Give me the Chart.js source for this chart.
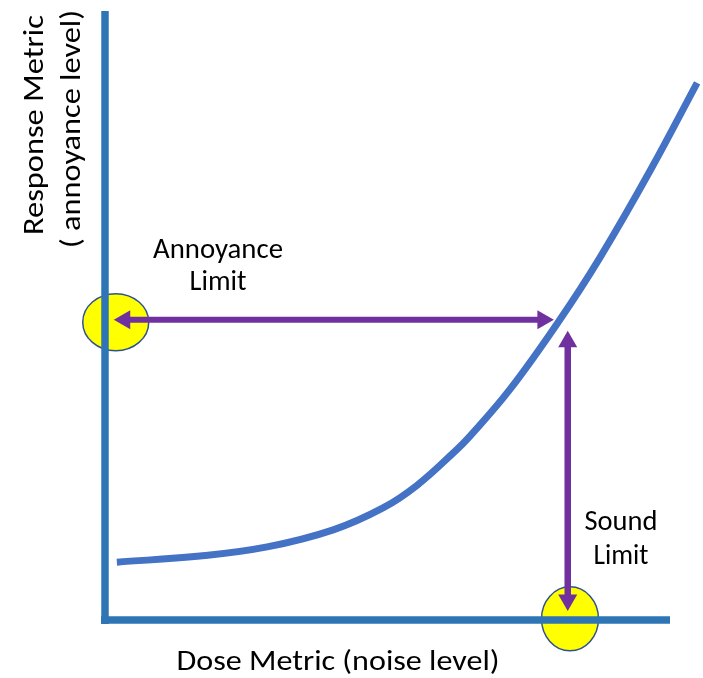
<!DOCTYPE html>
<html><head><meta charset="utf-8">
<script src="https://cdn.jsdelivr.net/npm/chart.js@4.4.1/dist/chart.umd.min.js"></script>
<style>html,body{margin:0;padding:0;background:#fff;}#wrap{width:703px;height:678px;}</style>
</head><body><div id="wrap"><canvas id="c" width="703" height="678"></canvas></div>
<script>
// Dose-response curve (dose metric on x, response metric on y, 0-100 units)
const doseValues     = [2.1, 16.8, 28.7, 40.4, 49.2, 55.2, 61.6, 64.6, 71.7, 80.5, 87.6, 96.5, 104.8];
const responseValues = [9.5, 10.5, 12.0, 14.8, 18.4, 22.1, 27.4, 30.2, 37.9, 49.3, 59.5, 73.8, 88.2];

// Limits
const annoyanceLimit = 49.3;   // response level
const soundLimit = 81.9;       // dose level

// Arrow endpoints (arrow head centres)
const annoyanceArrowX = [3.5, 77.5];
const soundArrowY = [45.7, 3.3];

// Axis extents
const xAxisExtent = [-0.7, 100];
const yAxisExtent = [-0.66, 100];

// Highlight ellipse centres
const ellipseCentres = [{x: 1.9, y: 48.9, rx: 33, ry: 28.5}, {x: 82.3, y: 0.2, rx: 28.5, ry: 32}];

// Text labels
const xTitle = 'Dose Metric (noise level)';
const yTitleLines = ['Response Metric', '( annoyance level)'];
const annoyanceLabel = ['Annoyance', 'Limit'];
const soundLabel = ['Sound', 'Limit'];

const curveData = doseValues.map((x, i) => ({x, y: responseValues[i]}));

const AXIS = '#2E75B6', CURVE = '#4472C4', PURPLE = '#7030A0';
const FONT = 'Carlito, Calibri, Lato, "Liberation Sans", sans-serif';

const ellipsePlugin = {
  id: 'ellipses',
  beforeDatasetsDraw(chart) {
    const {ctx, scales: {x, y}} = chart;
    ctx.save();
    ellipseCentres.forEach(e => {
      ctx.beginPath();
      ctx.ellipse(x.getPixelForValue(e.x), y.getPixelForValue(e.y), e.rx, e.ry, 0, 0, Math.PI * 2);
      ctx.fillStyle = '#FFFF00';
      ctx.fill();
      ctx.lineWidth = 1.5;
      ctx.strokeStyle = '#2F528F';
      ctx.stroke();
    });
    ctx.restore();
  }
};

function drawFit(ctx, text, cx, cy, width, rot) {
  ctx.save();
  ctx.translate(cx, cy);
  if (rot) ctx.rotate(rot);
  const w = ctx.measureText(text).width;
  ctx.scale(width / w, 1);
  ctx.fillText(text, 0, 0);
  ctx.restore();
}

const textPlugin = {
  id: 'texts',
  afterDraw(chart) {
    const ctx = chart.ctx;
    ctx.save();
    ctx.fillStyle = '#000';
    ctx.font = '28px ' + FONT;
    ctx.textAlign = 'center';
    ctx.textBaseline = 'alphabetic';
    drawFit(ctx, xTitle, 338, 670, 323);
    drawFit(ctx, annoyanceLabel[0], 218, 258, 130);
    drawFit(ctx, annoyanceLabel[1], 218, 290, 57);
    drawFit(ctx, soundLabel[0], 621, 530, 73);
    drawFit(ctx, soundLabel[1], 621, 564, 55);
    drawFit(ctx, yTitleLines[0], 43, 125, 220, -Math.PI / 2);
    drawFit(ctx, yTitleLines[1], 80, 129, 238, -Math.PI / 2);
    ctx.restore();
  }
};

new Chart(document.getElementById('c'), {
  type: 'scatter',
  data: {
    datasets: [
      { // horizontal arrow (annoyance limit)
        data: annoyanceArrowX.map(x => ({x, y: annoyanceLimit})),
        showLine: true, borderColor: PURPLE, borderWidth: 6, borderCapStyle: 'butt',
        pointStyle: 'triangle', pointRadius: 11, pointRotation: [270, 90],
        pointBackgroundColor: PURPLE, pointBorderWidth: 0, pointHoverRadius: 11,
        clip: false, order: 0
      },
      { // vertical arrow (sound limit)
        data: soundArrowY.map(y => ({x: soundLimit, y})),
        showLine: true, borderColor: PURPLE, borderWidth: 6.5, borderCapStyle: 'butt',
        pointStyle: 'triangle', pointRadius: 11, pointRotation: [0, 180],
        pointBackgroundColor: PURPLE, pointBorderWidth: 0, pointHoverRadius: 11,
        clip: false, order: 0
      },
      { // y axis
        data: yAxisExtent.map(y => ({x: 0, y})),
        showLine: true, borderColor: AXIS, borderWidth: 7.5, borderCapStyle: 'butt',
        pointRadius: 0, clip: false, order: 1
      },
      { // x axis
        data: xAxisExtent.map(x => ({x, y: 0})),
        showLine: true, borderColor: AXIS, borderWidth: 7.5, borderCapStyle: 'butt',
        pointRadius: 0, clip: false, order: 1
      },
      { // dose-response curve
        data: curveData,
        showLine: true, borderColor: CURVE, borderWidth: 7, borderCapStyle: 'butt',
        tension: 0.4, pointRadius: 0, clip: false, order: 2
      }
    ]
  },
  options: {
    responsive: false,
    devicePixelRatio: 1,
    animation: false,
    events: [],
    layout: {padding: {left: 105, right: 33, top: 10, bottom: 58}},
    plugins: {legend: {display: false}, tooltip: {enabled: false}},
    scales: {
      x: {type: 'linear', min: 0, max: 100, display: false},
      y: {type: 'linear', min: 0, max: 100, display: false}
    }
  },
  plugins: [ellipsePlugin, textPlugin]
});
</script>
</body></html>
